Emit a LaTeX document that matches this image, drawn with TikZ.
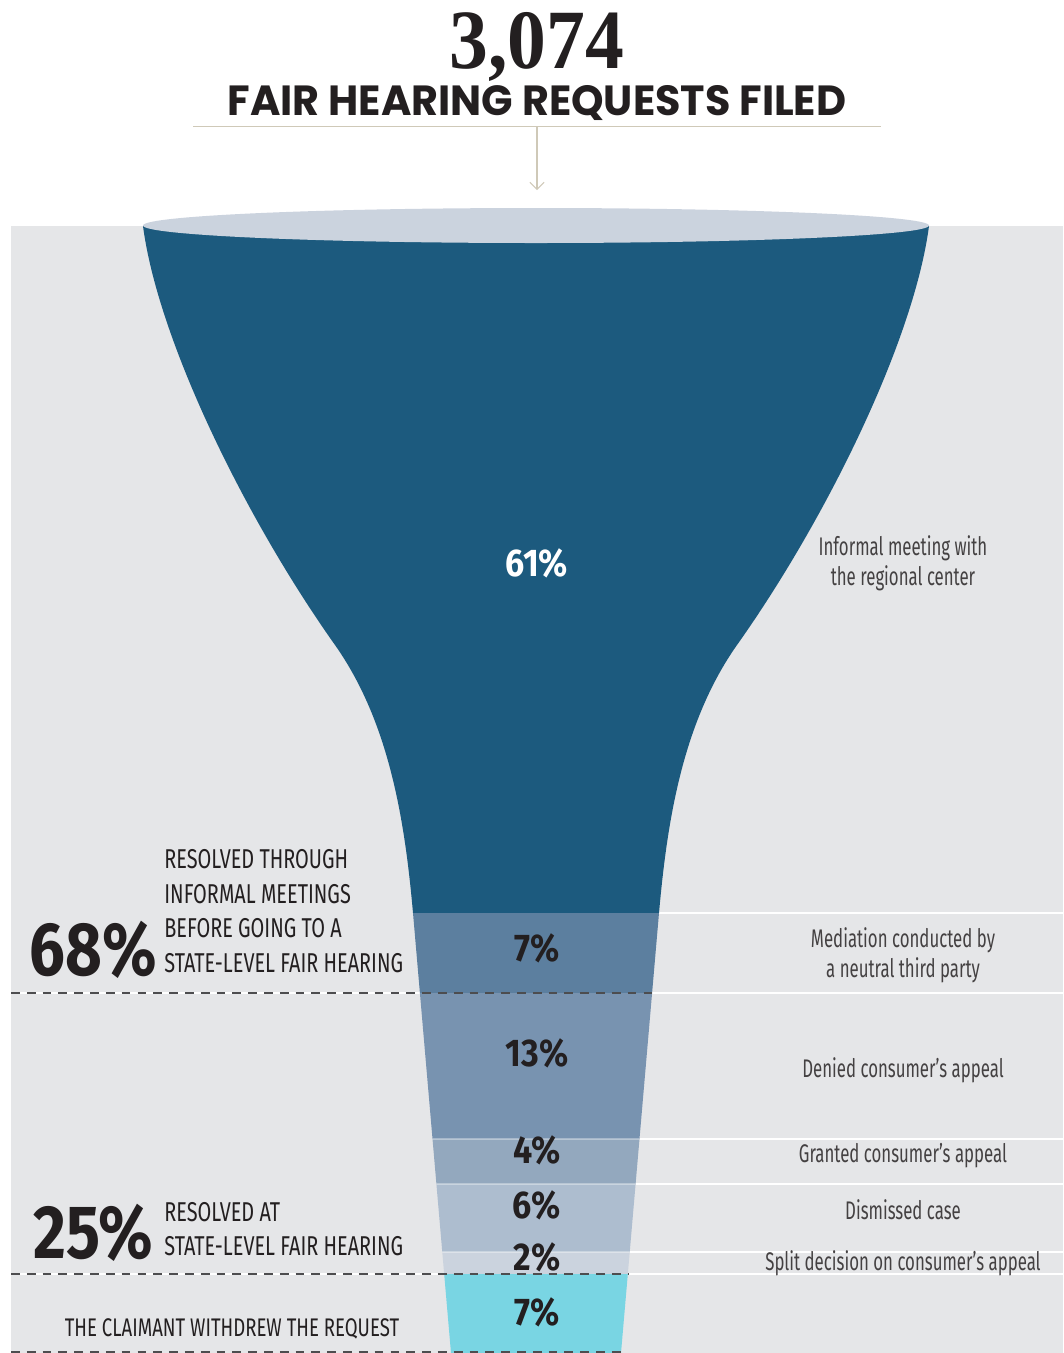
\documentclass[tikz,border=0pt]{standalone}
\usepackage{fontspec}
\usetikzlibrary{arrows.meta}

\newfontfamily\numfont[FakeStretch=0.92]{Liberation Serif}
\newfontfamily\headfont[FakeStretch=0.98]{Poppins}
\newfontfamily\lblfont[FakeStretch=0.66]{Fira Sans}
\newfontfamily\sidefont[FakeStretch=0.73]{Fira Sans}
\newfontfamily\pctfont[FakeStretch=0.88]{Fira Sans}
\newfontfamily\bigfont[FakeStretch=0.84]{Fira Sans}

\definecolor{ink}{HTML}{231F20}
\definecolor{paper}{HTML}{E5E6E8}
\definecolor{beige}{HTML}{CFC9B8}
\definecolor{dashgray}{HTML}{4D4D4F}
\definecolor{rim}{HTML}{CBD3DE}
\definecolor{band1}{HTML}{1C5A7E}
\definecolor{band2}{HTML}{5C7F9F}
\definecolor{band3}{HTML}{7893B0}
\definecolor{band4}{HTML}{93A8BE}
\definecolor{band5}{HTML}{ADBDCF}
\definecolor{band6}{HTML}{CBD3DE}
\definecolor{band7}{HTML}{79D5E3}

\tikzset{
  pct/.style={font=\pctfont\bfseries\fontsize{22}{24}\selectfont, text=ink},
  lbl/.style={font=\lblfont\fontsize{14.5}{17.3}\selectfont, text=ink!85, align=center},
  side/.style={font=\sidefont\fontsize{15.5}{19.7}\selectfont, text=ink, align=left},
  bigpct/.style={font=\bigfont\bfseries\fontsize{43}{43}\selectfont, text=ink},
  split/.style={white, line width=1.2pt},
  cut/.style={dashgray, line width=1.6pt, dash pattern=on 5pt off 4pt},
}

\begin{document}
\begin{tikzpicture}[x=0.02cm, y=-0.02cm]
    \useasboundingbox (0,0) rectangle (1063,1353);

    % Grey panel behind the funnel
    \fill[paper] (11,226) rectangle (1063,1353);

    % Header
    \node[font=\numfont\bfseries\fontsize{48}{48}\selectfont, text=ink, anchor=base, inner sep=0pt] (total) at (537,68) {3,074};
    \node[font=\headfont\bfseries\fontsize{24}{24}\selectfont, text=ink] (head) at (537,103.5) {FAIR HEARING REQUESTS FILED};
    \draw[beige, line width=0.7pt] (193,126.5) -- (881,126.5);
    \coordinate (rule) at (537,127);
    \coordinate (mouth) at (537,190);
    \draw[beige, line width=0.6pt, -{Straight Barb[length=4pt, width=8pt]}] (rule) -- (mouth);

    % White rules on the right and through the cuts
    \draw[split] (11,993) -- (1063,993);
    \draw[split] (11,1274) -- (1063,1274);
    \draw[split] (659,913) -- (1063,913);
    \draw[split] (639.5,1139) -- (1063,1139);
    \draw[split] (635.6,1184) -- (1063,1184);
    \draw[split] (629.7,1252) -- (1063,1252);

    % Funnel body, filled band by band
    \begin{scope}
        \clip (143,226) .. controls (158,340) and (245,518) .. (335,645)
              .. controls (390,723) and (405,823) .. (413,913)
              -- (451,1353) -- (621,1353) -- (659,913)
              .. controls (667,823) and (682,723) .. (737,645)
              .. controls (827,518) and (914,340) .. (929,226) -- cycle;
        \fill[band1] (100,200) rectangle (1000,913);
        \fill[band2] (100,913) rectangle (1000,993);
        \fill[band3] (100,993) rectangle (1000,1139);
        \fill[band4] (100,1139) rectangle (1000,1184);
        \fill[band5] (100,1184) rectangle (1000,1252);
        \fill[band6] (100,1252) rectangle (1000,1274);
        \fill[band7] (100,1274) rectangle (1000,1353);
        \draw[white, opacity=0.35, line width=0.6pt] (100,1139) -- (1000,1139);
        \draw[white, opacity=0.35, line width=0.6pt] (100,1184) -- (1000,1184);
        \draw[white, opacity=0.35, line width=0.6pt] (100,1252) -- (1000,1252);
    \end{scope}

    % Funnel mouth
    \fill[rim] (536,225.5) ellipse [x radius=393, y radius=17.5];

    % Dashed cuts between outcome groups
    \draw[cut] (11,993) -- (652,993);
    \draw[cut] (11,1274) -- (628,1274);
    \draw[cut] (11,1352) -- (621,1352);

    % Shares inside the funnel
    \node[pct, text=white] (p61) at (537,563) {61\%};
    \node[pct] (p7a) at (537,948) {7\%};
    \node[pct] (p13) at (537,1053) {13\%};
    \node[pct] (p4) at (537,1150) {4\%};
    \node[pct] (p6) at (537,1205) {6\%};
    \node[pct] (p2) at (537,1257) {2\%};
    \node[pct] (p7b) at (537,1312) {7\%};

    % Outcome labels on the right
    \node[lbl] (informal) at (903,563) {Informal meeting with\\the regional center};
    \node[lbl] (mediation) at (903,955) {Mediation conducted by\\a neutral third party};
    \node[lbl] (denied) at (903,1070) {Denied consumer’s appeal};
    \node[lbl] (granted) at (903,1156) {Granted consumer’s appeal};
    \node[lbl] (dismissed) at (903,1210) {Dismissed case};
    \node[lbl] (splitdec) at (903,1263) {Split decision on consumer’s appeal};

    % Group totals on the left
    \node[bigpct, anchor=west, inner sep=0pt] (g68) at (29,950) {68\%};
    \node[side, anchor=west, inner sep=0pt] (t68) at (164,911)
        {RESOLVED THROUGH\\INFORMAL MEETINGS\\BEFORE GOING TO A\\STATE-LEVEL FAIR HEARING};
    \node[bigpct, anchor=west, inner sep=0pt] (g25) at (33,1233) {25\%};
    \node[side, anchor=west, inner sep=0pt] (t25) at (164,1229)
        {RESOLVED AT\\STATE-LEVEL FAIR HEARING};
    \node[side, font=\sidefont\fontsize{14.5}{17}\selectfont] (withdrew) at (232,1329) {THE CLAIMANT WITHDREW THE REQUEST};

\end{tikzpicture}
\end{document}
